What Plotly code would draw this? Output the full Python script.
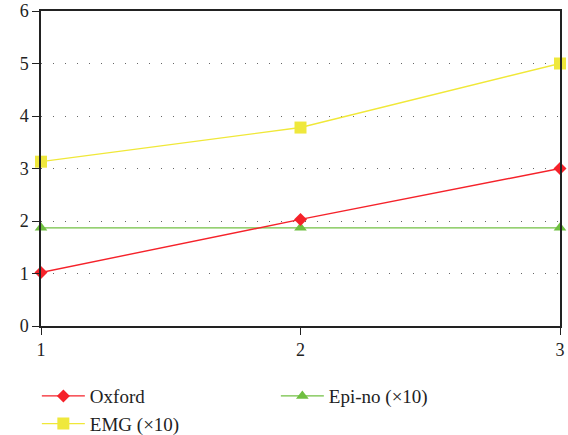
import plotly.graph_objects as go

x_vals = [1, 2, 3]
oxford = [1.02, 2.03, 3.0]
emg = [3.13, 3.78, 5.0]
epino = [1.87, 1.87, 1.87]
y_ticks = [0, 1, 2, 3, 4, 5, 6]

FONT = "Liberation Serif"

fig = go.Figure()
fig.add_trace(go.Scatter(x=x_vals, y=epino, name="Epi-no (×10)", mode="lines+markers",
                         line=dict(color="#72c043", width=1.4),
                         marker=dict(symbol="triangle-up", size=11, color="#6fbf40"),
                         cliponaxis=False, legendrank=2))
fig.add_trace(go.Scatter(x=x_vals, y=emg, name="EMG (×10)", mode="lines+markers",
                         line=dict(color="#f0e838", width=1.4),
                         marker=dict(symbol="square", size=12, color="#efe83c"),
                         cliponaxis=False, legendrank=3))
fig.add_trace(go.Scatter(x=x_vals, y=oxford, name="Oxford", mode="lines+markers",
                         line=dict(color="#f5222a", width=1.4),
                         marker=dict(symbol="diamond", size=10, color="#f5222a"),
                         cliponaxis=False, legendrank=1))

fig.update_layout(
    width=568, height=435,
    margin=dict(l=41, r=8, t=11, b=109, autoexpand=False),
    plot_bgcolor="white", paper_bgcolor="white",
    font=dict(family=FONT, size=18, color="#222"),
    legend=dict(orientation="h", x=-0.008, y=-0.162, xanchor="left", yanchor="top",
                entrywidth=181, entrywidthmode="pixels", itemwidth=43,
                traceorder="normal",
                font=dict(family=FONT, size=19), tracegroupgap=0),
    xaxis=dict(range=[1, 3], tickvals=x_vals, ticktext=["1", "2", "3"],
               showline=True, linecolor="#222", linewidth=1.5, mirror=True,
               ticks="outside", ticklen=7, tickcolor="#222", tickwidth=1.3,
               showgrid=False, zeroline=False, automargin=False,
               ticklabeloverflow="allow"),
    yaxis=dict(range=[0, 6], tickvals=y_ticks,
               showline=True, linecolor="#222", linewidth=1.5, mirror=True,
               ticks="outside", ticklen=7, tickcolor="#222", tickwidth=1.3,
               showgrid=True, gridcolor="#666", gridwidth=1, griddash="1px,11px",
               zeroline=False, automargin=False, ticklabeloverflow="allow"),
)

fig.write_html("out.html", config={"displayModeBar": False},
               post_script="document.body.style.margin='0';document.body.style.overflow='hidden';")
